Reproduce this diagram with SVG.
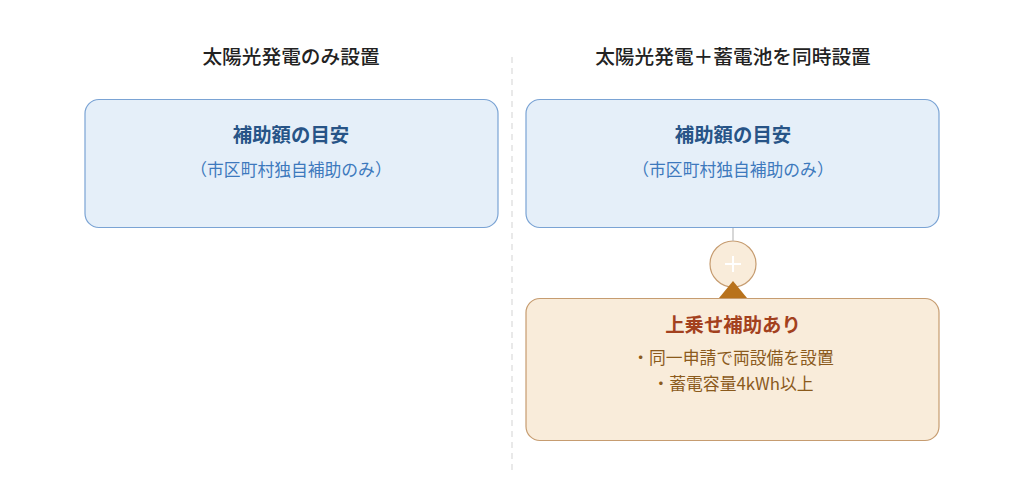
<svg xmlns="http://www.w3.org/2000/svg" width="1024" height="491" viewBox="0 0 1024 491">
<style>
.t{font-family:"Noto Sans CJK JP","Noto Sans",sans-serif;text-anchor:middle}
.title{font-size:19.7px;font-weight:500;fill:#222}
.bbox{fill:#e5eff9;stroke:#7aa3d4;stroke-width:1.2}
.obox{fill:#f9ecda;stroke:#c69c70;stroke-width:1.2}
.bh{font-size:19.4px;font-weight:700;fill:#275487}
.bs{font-size:16.8px;fill:#3d79bd}
.oh{font-size:19.4px;font-weight:700;fill:#a3411e}
.os{font-size:16.8px;fill:#8b5a1c}
</style>
<rect width="1024" height="491" fill="#fff"/>
<g id="divider"><line x1="512" y1="57" x2="512" y2="470" stroke="#e2e2e2" stroke-width="1.5" stroke-dasharray="6,5"/></g>
<g id="title-left"><text class="t title" x="291" y="64">太陽光発電のみ設置</text></g>
<g id="title-right"><text class="t title" x="733" y="64">太陽光発電＋蓄電池を同時設置</text></g>
<g id="left-box">
<rect class="bbox" x="85" y="99.5" width="413" height="128" rx="14"/>
<text class="t bh" x="291" y="142">補助額の目安</text>
<text class="t bs" x="291" y="176">（市区町村独自補助のみ）</text>
</g>
<g id="right-box">
<rect class="bbox" x="526" y="99.5" width="413" height="128" rx="14"/>
<text class="t bh" x="733" y="142">補助額の目安</text>
<text class="t bs" x="733" y="176">（市区町村独自補助のみ）</text>
</g>
<g id="plus">
<circle cx="733" cy="264" r="23" fill="#f9ecda" stroke="#c69c70" stroke-width="1.2"/>
<path d="M733 256V272M725 264H741" stroke="#fff" stroke-width="2"/>
</g>
<g id="connectors">
<line x1="733" y1="228" x2="733" y2="241" stroke="#bdbdbd" stroke-width="1.2"/>
<polygon points="733,281 719,298 747,298" fill="#b8721c"/>
</g>
<g id="bonus-box">
<rect class="obox" x="526" y="298.5" width="413" height="142" rx="14"/>
<text class="t oh" x="733" y="332">上乗せ補助あり</text>
<text class="t os" x="733" y="364">・同一申請で両設備を設置</text>
<text class="t os" x="733" y="390">・蓄電容量4kWh以上</text>
</g>
</svg>
